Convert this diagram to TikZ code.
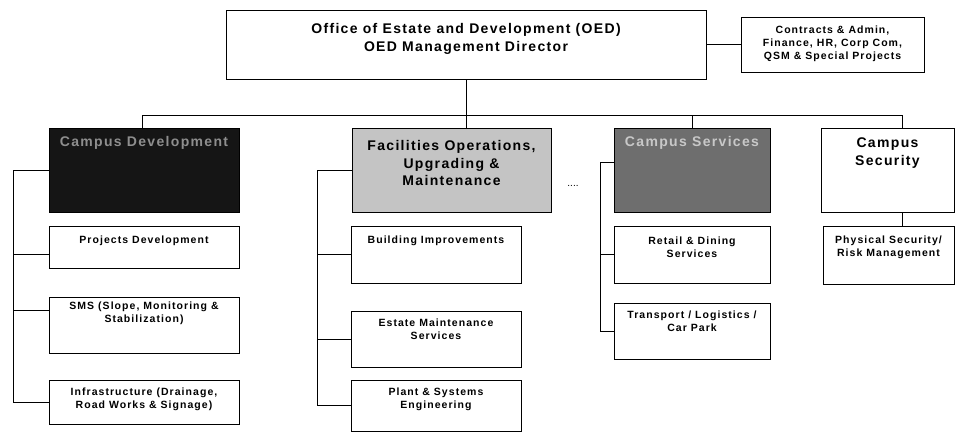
\documentclass[tikz,border=0pt]{standalone}
\usepackage{fontspec}
\setmainfont{Liberation Sans}
\newfontfamily\bigf[LetterSpace=9.5]{Liberation Sans}
\newfontfamily\smallf[LetterSpace=10]{Liberation Sans}
\definecolor{cddark}{HTML}{151515}
\definecolor{cdtext}{HTML}{8E8E8E}
\definecolor{folight}{HTML}{C4C4C4}
\definecolor{csmid}{HTML}{6E6E6E}
\definecolor{cstext}{HTML}{C8C8C8}
\tikzset{
  box/.style={draw=black, line width=1pt, rectangle, inner sep=0pt},
  bigtxt/.style={font=\bigf\bfseries\fontsize{14}{17.5}\selectfont, align=center, inner sep=0pt},
  smalltxt/.style={font=\smallf\bfseries\fontsize{10.5}{13}\selectfont, align=center, inner sep=0pt},
  link/.style={draw=black, line width=0.9pt}
}
\begin{document}
\begin{tikzpicture}[x=1pt,y=-1pt]
\useasboundingbox (0,0) rectangle (956,432);
% boxes
\node[box, minimum width=480pt, minimum height=69pt] (top) at (466,44.5) {};
\node[box, minimum width=183pt, minimum height=55pt] (side) at (832.5,44.5) {};
\node[box, fill=cddark, minimum width=190pt, minimum height=84pt] (cd) at (144,170) {};
\node[box, fill=folight, minimum width=199pt, minimum height=84pt] (fo) at (451.5,170) {};
\node[box, fill=csmid, minimum width=156pt, minimum height=84pt] (cs) at (692,170) {};
\node[box, minimum width=133pt, minimum height=84pt] (sec) at (887.5,170) {};
\node[box, minimum width=190pt, minimum height=42pt] (pd) at (144,247) {};
\node[box, minimum width=190pt, minimum height=56pt] (sms) at (144,325) {};
\node[box, minimum width=190pt, minimum height=44pt] (inf) at (144,402) {};
\node[box, minimum width=170pt, minimum height=57pt] (bi) at (436,254.5) {};
\node[box, minimum width=170pt, minimum height=56pt] (em) at (436,339) {};
\node[box, minimum width=170pt, minimum height=51pt] (pl) at (436,405.5) {};
\node[box, minimum width=156pt, minimum height=57pt] (rd) at (692,254.5) {};
\node[box, minimum width=156pt, minimum height=56pt] (tr) at (692,331) {};
\node[box, minimum width=131pt, minimum height=58pt] (phs) at (888.5,255) {};
% texts
\node[bigtxt] (ttop) at (466,39) {Office of Estate and Development (OED)\\OED Management Director};
\node[smalltxt] (tside) at (832.5,44) {Contracts \& Admin,\\Finance, HR, Corp Com,\\QSM \& Special Projects};
\node[bigtxt, text=cdtext] (tcd) at (144,143) {Campus Development};
\node[bigtxt] (tfo) at (451.5,163) {Facilities Operations,\\Upgrading \&\\Maintenance};
\node[bigtxt, text=cstext] (tcs) at (692,143) {Campus Services};
\node[bigtxt] (tsec) at (887.5,153) {Campus\\Security};
\node[smalltxt] (tpd) at (144,241) {Projects Development};
\node[smalltxt] (tsms) at (144,313) {SMS (Slope, Monitoring \&\\Stabilization)};
\node[smalltxt] (tinf) at (144,399) {Infrastructure (Drainage,\\Road Works \& Signage)};
\node[smalltxt] (tbi) at (436,241) {Building Improvements};
\node[smalltxt] (tem) at (436,329) {Estate Maintenance\\Services};
\node[smalltxt] (tpl) at (436,399) {Plant \& Systems\\Engineering};
\node[smalltxt] (trd) at (692,247) {Retail \& Dining\\Services};
\node[smalltxt] (ttr) at (692,321) {Transport / Logistics /\\Car Park};
\node[smalltxt] (tphs) at (888.5,247) {Physical Security/\\Risk Management};
\node[font=\fontsize{10}{10}\selectfont] (dots) at (573,186) {....};
% coordinates
\coordinate (bl) at (142,115);
\coordinate (br) at (902,115);
\coordinate (s1) at (13,0);
\coordinate (s2) at (317,0);
\coordinate (s3) at (600,0);
\coordinate (pds) at ([yshift=-7pt]pd.west);
\coordinate (smss) at ([yshift=15pt]sms.west);
\coordinate (css) at ([yshift=8pt]cs.west);
% connectors
\draw[link] (top.east) -- (side.west);
\draw[link] (top.south) -- (top.south |- fo.north);
\draw[link] (bl) -- (br);
\draw[link] (bl) -- (bl |- cd.north);
\draw[link] (cs.north) -- (cs.north |- bl);
\draw[link] (br) -- (br |- sec.north);
\draw[link] (cd.west) -| (s1 |- inf.west) -- (inf.west);
\draw[link] (pds) -- (pds -| s1);
\draw[link] (smss) -- (smss -| s1);
\draw[link] (fo.west) -| (s2 |- pl.west) -- (pl.west);
\draw[link] (bi.west) -- (bi.west -| s2);
\draw[link] (em.west) -- (em.west -| s2);
\draw[link] (css) -| (s3 |- tr.west) -- (tr.west);
\draw[link] (rd.west) -- (rd.west -| s3);
\draw[link] (sec.south -| br) -- (br |- phs.north);
\end{tikzpicture}
\end{document}
